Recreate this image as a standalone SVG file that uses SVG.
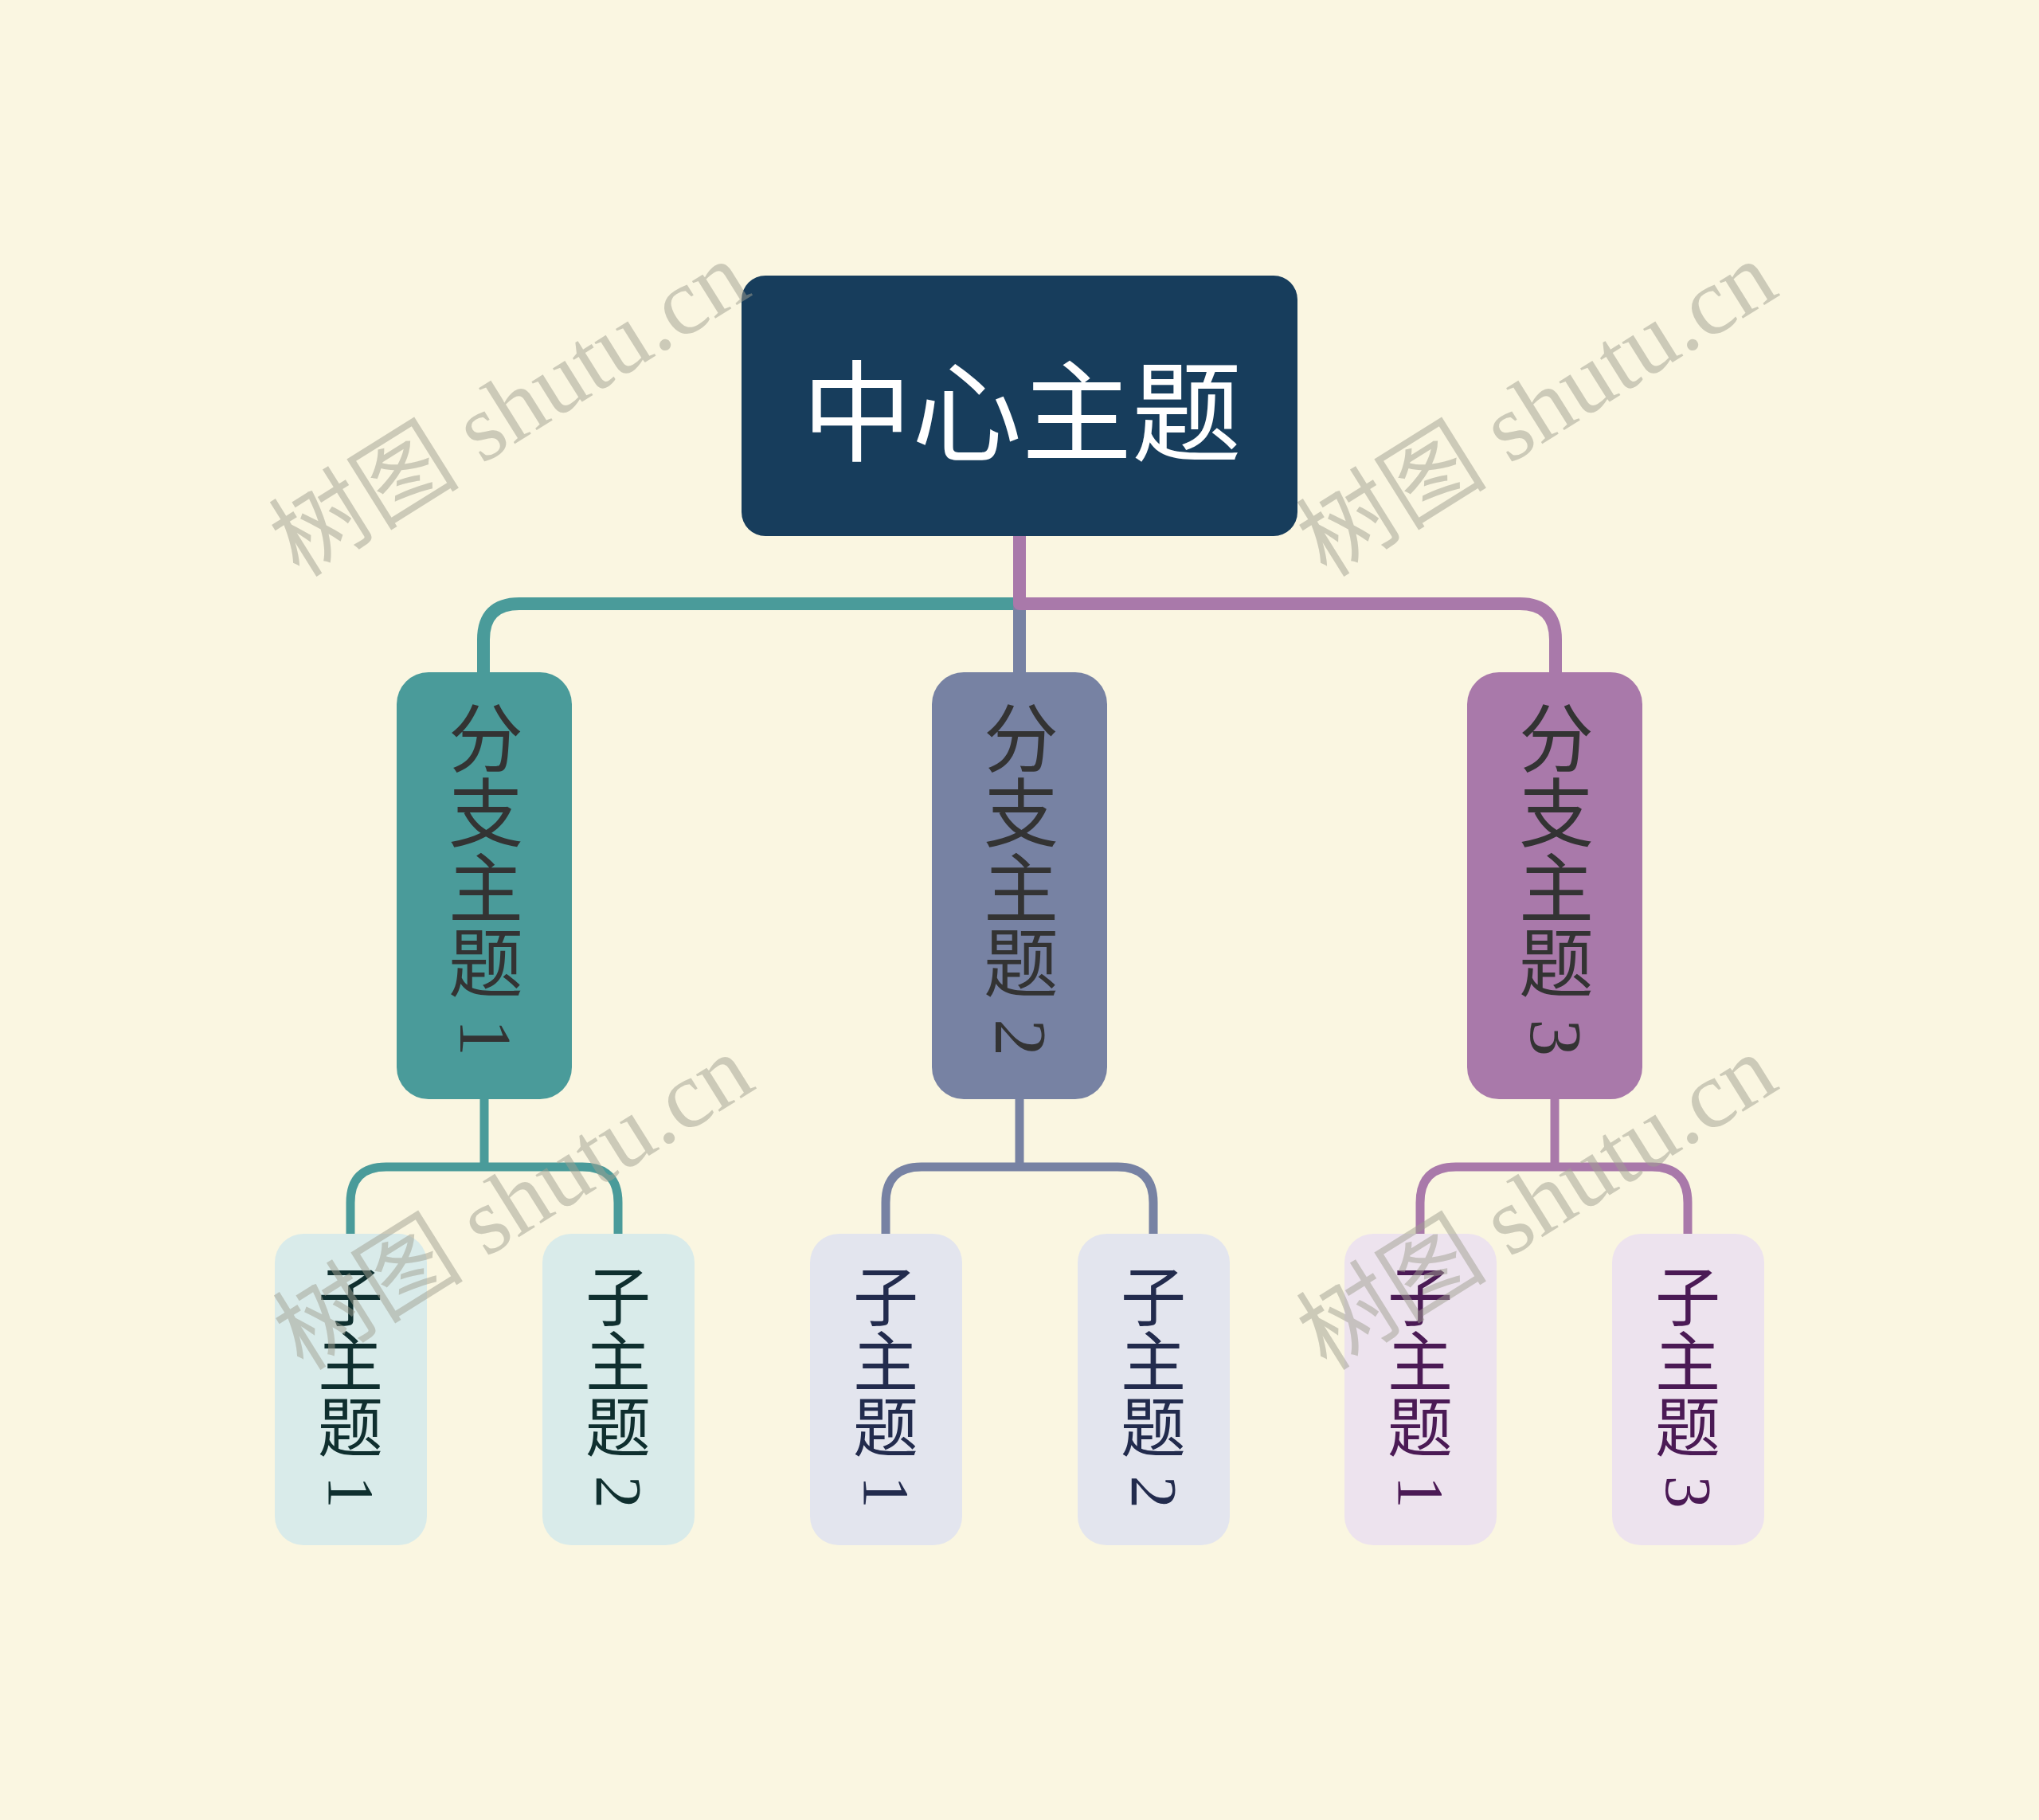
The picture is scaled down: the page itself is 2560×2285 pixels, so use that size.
<svg xmlns="http://www.w3.org/2000/svg" width="2560" height="2285" viewBox="0 0 2560 2285">
<defs>
<style>
.cjk{font-family:"Noto Sans CJK SC","Noto Sans",sans-serif}
.vt{writing-mode:vertical-rl;text-anchor:middle}
.dg{font-family:"Liberation Serif",serif}
.br{font-size:94px;fill:#333333}
.sb{font-size:82px}
.wm{font-family:"Liberation Serif","Noto Sans CJK SC",serif;font-size:120px;fill:#A0A091;opacity:0.5;text-anchor:middle}
.c1{fill:none;stroke-width:16;stroke-linejoin:round}
.c2{fill:none;stroke-width:11;stroke-linejoin:round}
</style>
</defs>
<rect x="0" y="0" width="2560" height="2285" fill="#FAF6E1"/>
<g id="connectors">
<path class="c1" stroke="#4A9B9A" d="M1280,673 V758 H652 Q607,758 607,803 V844"/>
<path class="c1" stroke="#7782A3" d="M1280,758 V844"/>
<path class="c1" stroke="#A979AA" d="M1280,673 V758 H1908 Q1953,758 1953,803 V844"/>
<path class="c2" stroke="#4A9B9A" d="M608,1380 V1465 M608,1465 H485 Q440,1465 440,1510 V1549 M608,1465 H731 Q776,1465 776,1510 V1549"/>
<path class="c2" stroke="#7782A3" d="M1280,1380 V1465 M1280,1465 H1157 Q1112,1465 1112,1510 V1549 M1280,1465 H1403 Q1448,1465 1448,1510 V1549"/>
<path class="c2" stroke="#A979AA" d="M1952,1380 V1465 M1952,1465 H1828 Q1783,1465 1783,1510 V1549 M1952,1465 H2074 Q2119,1465 2119,1510 V1549"/>
</g>
<g id="central">
<rect x="931" y="346" width="698" height="327" rx="30" fill="#173D5C"/>
<text class="cjk" x="1283" y="508" font-size="138" fill="#FFFFFF" text-anchor="middle" dominant-baseline="central">中心主题</text>
</g>
<g id="branch1">
<rect x="498" y="844" width="220" height="536" rx="40" fill="#4A9B9A"/>
<text class="cjk vt br" x="610" y="1103">分支主题<tspan class="dg"> 1</tspan></text>
</g>
<g id="branch2">
<rect x="1170" y="844" width="220" height="536" rx="40" fill="#7782A3"/>
<text class="cjk vt br" x="1282" y="1103">分支主题<tspan class="dg"> 2</tspan></text>
</g>
<g id="branch3">
<rect x="1842" y="844" width="220" height="536" rx="40" fill="#A979AA"/>
<text class="cjk vt br" x="1954" y="1103">分支主题<tspan class="dg"> 3</tspan></text>
</g>
<g id="sub1-1">
<rect x="345" y="1549" width="191" height="391" rx="36" fill="#D9EBEA"/>
<text class="cjk vt sb" x="440" y="1740" fill="#0F2F2F">子主题<tspan class="dg"> 1</tspan></text>
</g>
<g id="sub1-2">
<rect x="681" y="1549" width="191" height="391" rx="36" fill="#D9EBEA"/>
<text class="cjk vt sb" x="776" y="1740" fill="#0F2F2F">子主题<tspan class="dg"> 2</tspan></text>
</g>
<g id="sub2-1">
<rect x="1017" y="1549" width="191" height="391" rx="36" fill="#E3E5EE"/>
<text class="cjk vt sb" x="1112" y="1740" fill="#222B4D">子主题<tspan class="dg"> 1</tspan></text>
</g>
<g id="sub2-2">
<rect x="1353" y="1549" width="191" height="391" rx="36" fill="#E3E5EE"/>
<text class="cjk vt sb" x="1448" y="1740" fill="#222B4D">子主题<tspan class="dg"> 2</tspan></text>
</g>
<g id="sub3-1">
<rect x="1688" y="1549" width="191" height="391" rx="36" fill="#EDE3EE"/>
<text class="cjk vt sb" x="1783" y="1740" fill="#4B1A55">子主题<tspan class="dg"> 1</tspan></text>
</g>
<g id="sub3-2">
<rect x="2024" y="1549" width="191" height="391" rx="36" fill="#EDE3EE"/>
<text class="cjk vt sb" x="2119" y="1740" fill="#4B1A55">子主题<tspan class="dg"> 3</tspan></text>
</g>
<g id="watermarks">
<text class="wm" transform="translate(640,514) rotate(-32)" y="40">树图 shutu.cn</text>
<text class="wm" transform="translate(1930,514) rotate(-32)" y="40">树图 shutu.cn</text>
<text class="wm" transform="translate(645,1510) rotate(-32)" y="40">树图 shutu.cn</text>
<text class="wm" transform="translate(1930,1510) rotate(-32)" y="40">树图 shutu.cn</text>
</g>
</svg>
